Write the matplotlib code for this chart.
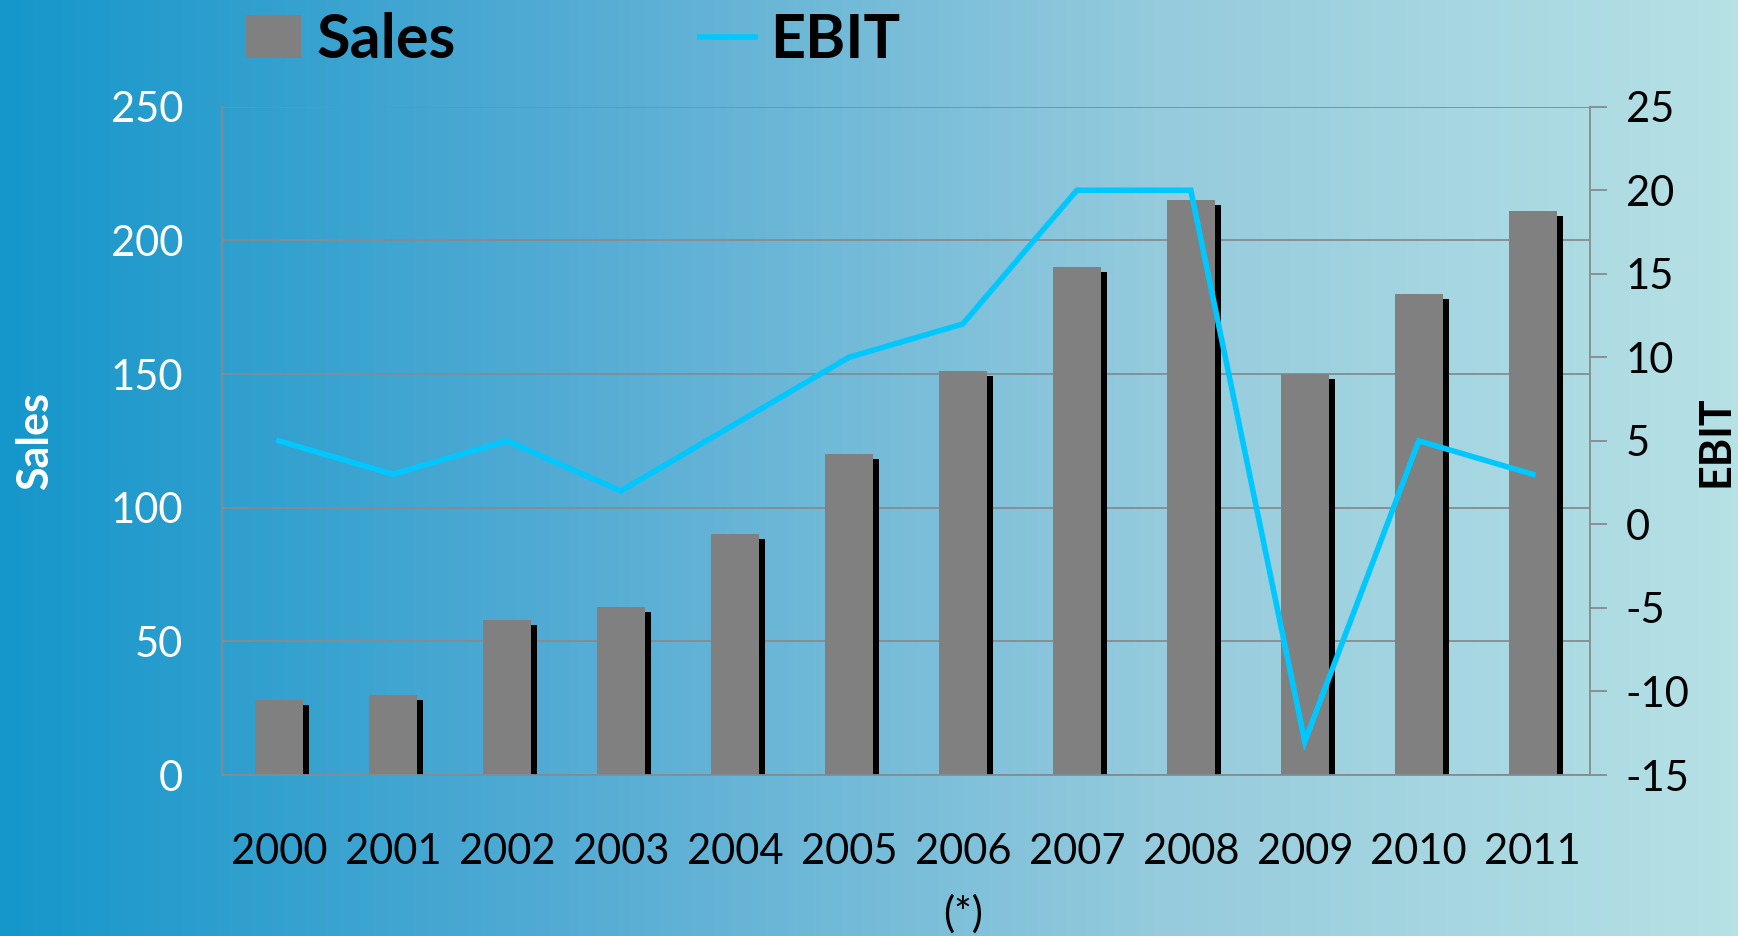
import numpy as np
import matplotlib
matplotlib.use("Agg")
import matplotlib.pyplot as plt
import matplotlib.patheffects as pe
from matplotlib.colors import LinearSegmentedColormap
from matplotlib.patches import Patch

years = ["2000", "2001", "2002", "2003", "2004", "2005", "2006\n(*)", "2007",
         "2008", "2009", "2010", "2011"]
sales = [28, 30, 58, 63, 90, 120, 151, 190, 215, 150, 180, 211]
ebit = [5, 3, 5, 2, 6, 10, 12, 20, 20, -13, 5, 3]

plt.rcParams['font.family'] = ['Lato', 'DejaVu Sans']
plt.rcParams['axes.unicode_minus'] = False

fig = plt.figure(figsize=(17.38, 9.36), dpi=100)

# background gradient
bg = fig.add_axes([0, 0, 1, 1], zorder=-10)
cmap = LinearSegmentedColormap.from_list(
    "bg", ["#1597cb", "#55acd4", "#95cbdd", "#b6e1e5"])
bg.imshow(np.linspace(0, 1, 512)[None, :], aspect="auto", cmap=cmap,
          extent=[0, 1, 0, 1])
bg.axis("off")

ax = fig.add_axes([0.1277, 0.172, 0.787, 0.714])
ax.patch.set_alpha(0)
x = np.arange(len(years))

shadow = [pe.SimplePatchShadow(offset=(4.3, -3.6), shadow_rgbFace="black", alpha=1.0),
          pe.Normal()]
bars = ax.bar(x, sales, width=0.42, color="#808080", zorder=2)
for b in bars:
    b.set_path_effects(shadow)

ax.set_ylim(0, 250)
ax.set_yticks(range(0, 251, 50))
ax.set_xlim(-0.5, len(years) - 0.5)
ax.set_xticks(x)
ax.set_xticklabels(years, fontsize=30, color="black", linespacing=1.7)
ax.tick_params(axis="x", length=0, pad=42)
ax.tick_params(axis="y", length=0, pad=28, labelsize=30, labelcolor="white")
ax.grid(axis="y", color="#858c90", linewidth=1.3, zorder=0)
ax.set_axisbelow(True)
for s in ["top", "right"]:
    ax.spines[s].set_visible(False)
for s in ["left", "bottom"]:
    ax.spines[s].set_color("#858c90")
    ax.spines[s].set_linewidth(1.3)
ax.set_ylabel("Sales", fontsize=31, fontweight="bold", color="white")
ax.yaxis.set_label_coords(-0.122, 0.5)

ax2 = ax.twinx()
line, = ax2.plot(x, ebit, color="#00c8ff", linewidth=4.0, solid_joinstyle="miter")
ax2.set_ylim(-15, 25)
ax2.set_yticks(range(-15, 26, 5))
ax2.tick_params(axis="y", length=12, width=1.3, color="#858c90", pad=14,
                labelsize=30, labelcolor="black")
for s in ["top", "left", "bottom"]:
    ax2.spines[s].set_visible(False)
ax2.spines["right"].set_color("#858c90")
ax2.spines["right"].set_linewidth(1.3)
ax2.set_ylabel("EBIT", fontsize=31, fontweight="bold", color="black")
ax2.yaxis.set_label_coords(1.077, 0.5)

fig.legend([Patch(facecolor="#808080"), line], ["Sales", "EBIT"], loc="upper left",
           bbox_to_anchor=(0.11, 1.046), ncol=2, frameon=False,
           prop={"size": 44, "weight": "bold"}, handlelength=0.9,
           handleheight=0.7, handletextpad=0.25, columnspacing=4.0)

fig.savefig("out.png", dpi=100)
